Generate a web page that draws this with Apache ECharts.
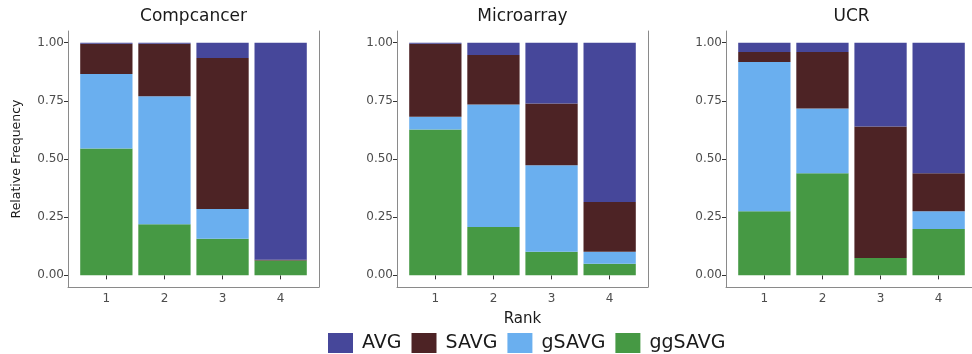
<!DOCTYPE html>
<html>
<head>
<meta charset="utf-8">
<script src="https://cdn.jsdelivr.net/npm/echarts@6/dist/echarts.min.js"></script>
<style>html,body{margin:0;padding:0;background:#fff}#c{width:972px;height:354px}</style>
</head>
<body>
<div id="c"></div>
<script>
// ---- data ----
const panels = ['Compcancer', 'Microarray', 'UCR'];
const ranks = ['1', '2', '3', '4'];
const yTicks = [0, 0.25, 0.5, 0.75, 1];
const seriesNames = ['AVG', 'SAVG', 'gSAVG', 'ggSAVG'];

const compAVG    = [0.005, 0.005, 0.066, 0.933];
const compSAVG   = [0.130, 0.225, 0.649, 0.003];
const compGSAVG  = [0.320, 0.550, 0.128, 0.000];
const compGGSAVG = [0.545, 0.220, 0.157, 0.064];

const microAVG    = [0.005, 0.053, 0.262, 0.685];
const microSAVG   = [0.313, 0.213, 0.265, 0.214];
const microGSAVG  = [0.055, 0.526, 0.372, 0.051];
const microGGSAVG = [0.627, 0.208, 0.101, 0.050];

const ucrAVG    = [0.040, 0.040, 0.360, 0.561];
const ucrSAVG   = [0.043, 0.243, 0.565, 0.163];
const ucrGSAVG  = [0.641, 0.278, 0.000, 0.077];
const ucrGGSAVG = [0.276, 0.439, 0.075, 0.199];

const panelData = [
  {AVG: compAVG, SAVG: compSAVG, gSAVG: compGSAVG, ggSAVG: compGGSAVG},
  {AVG: microAVG, SAVG: microSAVG, gSAVG: microGSAVG, ggSAVG: microGGSAVG},
  {AVG: ucrAVG, SAVG: ucrSAVG, gSAVG: ucrGSAVG, ggSAVG: ucrGGSAVG}
];

// ---- styling ----
const colors = {AVG: '#46479a', SAVG: '#4d2325', gSAVG: '#6aafef', ggSAVG: '#469944'};
const FONT = 'DejaVu Sans';
const gridLefts = [68, 397, 726];
const gridW = 251, gridTop = 31, gridH = 256;
const bandPad = 9.3;
const lineColor = '#8a8a8a';

const grid = [], xAxis = [], yAxis = [], title = [], series = [];
panels.forEach((name, i) => {
  grid.push({left: gridLefts[i], top: gridTop, width: gridW, height: gridH});
  grid.push({left: gridLefts[i] + bandPad, top: gridTop, width: gridW - 2 * bandPad, height: gridH});
  const gA = i * 2, gB = i * 2 + 1;

  title.push({text: name, left: gridLefts[i] + gridW / 2, top: 8, textAlign: 'center', padding: 0,
    textStyle: {fontFamily: FONT, fontSize: 17, fontWeight: 'normal', color: '#1a1a1a'}});

  xAxis.push({type: 'value', gridIndex: gA, min: 0, max: 1,
    name: i === 1 ? 'Rank' : '', nameLocation: 'middle', nameGap: 25,
    nameTextStyle: {fontFamily: FONT, fontSize: 15, color: '#1a1a1a'},
    axisLine: {show: true, onZero: false, lineStyle: {color: lineColor, width: 1}},
    axisTick: {show: false}, axisLabel: {show: false}, splitLine: {show: false}});
  xAxis.push({type: 'category', gridIndex: gB, data: ranks, boundaryGap: true,
    axisLine: {show: false},
    axisTick: {show: true, alignWithLabel: true, length: 4, lineStyle: {color: '#333'}},
    axisLabel: {margin: 6, fontFamily: FONT, fontSize: 12, color: '#4d4d4d'},
    splitLine: {show: false}});

  yAxis.push({type: 'value', gridIndex: gA, min: -0.05, max: 1.05,
    name: i === 0 ? 'Relative Frequency' : '', nameLocation: 'middle', nameGap: 45,
    nameTextStyle: {fontFamily: FONT, fontSize: 12.5, color: '#1a1a1a'},
    axisLine: {show: true, onZero: false, lineStyle: {color: lineColor, width: 1}},
    axisTick: {show: true, length: 4, customValues: yTicks, lineStyle: {color: '#333'}},
    axisLabel: {customValues: yTicks, margin: 4, fontFamily: FONT, fontSize: 12, color: '#4d4d4d',
      formatter: v => v.toFixed(2)},
    splitLine: {show: false}});
  yAxis.push({type: 'value', gridIndex: gA, position: 'right', min: -0.05, max: 1.05,
    axisLine: {show: true, onZero: false, lineStyle: {color: lineColor, width: 1}},
    axisTick: {show: false}, axisLabel: {show: false}, splitLine: {show: false}});
  yAxis.push({type: 'value', gridIndex: gB, min: -0.05, max: 1.05, show: false, splitLine: {show: false}});

  const yIdx = i * 3 + 2;
  ['ggSAVG', 'gSAVG', 'SAVG', 'AVG'].forEach(s => {
    series.push({type: 'bar', name: s, xAxisIndex: gB, yAxisIndex: yIdx, stack: 'p' + i,
      barWidth: '90%', itemStyle: {color: colors[s], borderWidth: 0},
      data: panelData[i][s]});
  });
});

const chart = echarts.init(document.getElementById('c'), null, {renderer: 'canvas'});
chart.setOption({
  animation: false,
  backgroundColor: '#fff',
  title: title,
  grid: grid,
  xAxis: xAxis,
  yAxis: yAxis,
  legend: {data: seriesNames, left: 328, top: 333, padding: 0, icon: 'rect', itemWidth: 25, itemHeight: 20,
    itemGap: 10, textStyle: {fontFamily: FONT, fontSize: 19, color: '#1a1a1a', padding: [0, 0, 0, 4]}},
  series: series
});
</script>
</body>
</html>
